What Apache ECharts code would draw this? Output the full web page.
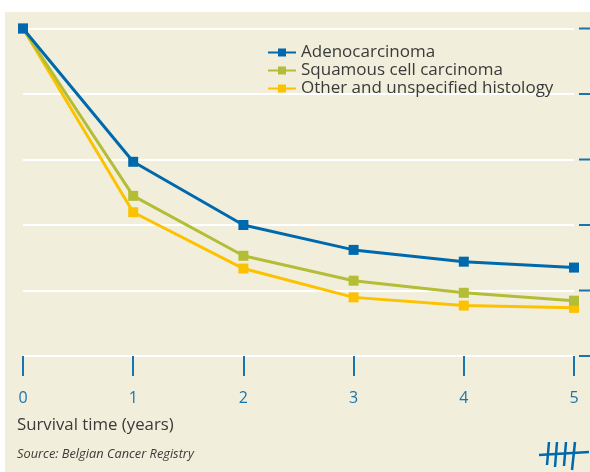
<!DOCTYPE html>
<html>
<head>
<meta charset="utf-8">
<script src="https://cdn.jsdelivr.net/npm/echarts@6/dist/echarts.min.js"></script>
<style>
html,body{margin:0;padding:0;background:#ffffff;}
#bg{position:absolute;left:5px;top:12px;width:585px;height:460px;background:#f1efdb;}
#chart{position:absolute;left:0;top:0;width:590px;height:472px;}
</style>
</head>
<body>
<div id="bg"></div>
<div id="chart"></div>
<script>
const years = [0, 1, 2, 3, 4, 5];
const seriesNames = ['Adenocarcinoma', 'Squamous cell carcinoma', 'Other and unspecified histology'];
const adeno = [100, 59.3, 40.0, 32.4, 28.8, 27.0];
const squamous = [100, 48.9, 30.6, 23.0, 19.3, 16.9];
const other = [100, 43.9, 26.7, 17.9, 15.4, 14.7];
const xTickLabels = ['0', '1', '2', '3', '4', '5'];
const yTicks = [0, 20, 40, 60, 80, 100];
const xTitle = 'Survival time (years)';
const sourceText = 'Source: Belgian Cancer Registry';

const colors = ['#0069ad', '#b4bd36', '#fcc200'];
const values = [adeno, squamous, other];
const tickBlue = '#1a74b0';
const font = 'Open Sans';

const chart = echarts.init(document.getElementById('chart'), null, {renderer: 'canvas'});
const series = seriesNames.map((name, i) => ({
  name: name,
  type: 'line',
  data: years.map((y, j) => [y, values[i][j]]),
  symbol: 'rect',
  symbolSize: 10,
  z: 10 - i,
  lineStyle: {color: colors[i], width: 3},
  itemStyle: {color: colors[i]},
  animation: false
}));

const staticGraphics = [
  {type: 'text', left: 17, top: 417, style: {text: xTitle, fontFamily: font, fontSize: 16.8, fill: '#3a3a3a'}},
  {type: 'text', left: 17, top: 448, style: {text: sourceText, fontFamily: font, fontSize: 12.8, fontStyle: 'italic', fill: '#3a3a3a'}},
  {type: 'line', shape: {x1: 539, y1: 455, x2: 589, y2: 452}, style: {stroke: '#0069ad', lineWidth: 2.5}},
  {type: 'line', shape: {x1: 549, y1: 442, x2: 547, y2: 465}, style: {stroke: '#0069ad', lineWidth: 2.5}},
  {type: 'line', shape: {x1: 557, y1: 442, x2: 555, y2: 467}, style: {stroke: '#0069ad', lineWidth: 2.5}},
  {type: 'line', shape: {x1: 566, y1: 442, x2: 564, y2: 466}, style: {stroke: '#0069ad', lineWidth: 2.5}},
  {type: 'line', shape: {x1: 575, y1: 442, x2: 572, y2: 470}, style: {stroke: '#0069ad', lineWidth: 2.5}}
];

chart.setOption({
  backgroundColor: 'transparent',
  animation: false,
  textStyle: {fontFamily: font},
  grid: {left: 23, right: 16, top: 28.5, bottom: 116},
  legend: {
    left: 262, top: 39, orient: 'vertical', itemGap: 1,
    itemWidth: 28, itemHeight: 10,
    textStyle: {fontFamily: font, fontSize: 17, color: '#3a3a3a'},
    data: seriesNames
  },
  xAxis: {
    type: 'value', min: 0, max: 5, interval: 1,
    axisLine: {show: false},
    axisTick: {show: true, length: 20, inside: false, lineStyle: {color: tickBlue, width: 2}},
    axisLabel: {margin: 34, fontSize: 16, color: tickBlue, fontFamily: font,
      formatter: v => xTickLabels[v]},
    splitLine: {show: false}
  },
  yAxis: {
    type: 'value', min: 0, max: 100, interval: 20,
    axisLine: {show: false},
    axisTick: {show: false},
    axisLabel: {show: false},
    splitLine: {show: true, lineStyle: {color: '#ffffff', width: 2}}
  },
  graphic: staticGraphics,
  series: series
});

// right-side tick marks positioned through the y axis scale
const rightEdge = chart.convertToPixel({xAxisIndex: 0}, 5);
const tickGraphics = yTicks.map(v => {
  const py = chart.convertToPixel({yAxisIndex: 0}, v);
  return {type: 'line', shape: {x1: rightEdge + 5, y1: py, x2: rightEdge + 17, y2: py},
          style: {stroke: tickBlue, lineWidth: 2}};
});
chart.setOption({graphic: staticGraphics.concat(tickGraphics)});
</script>
</body>
</html>
